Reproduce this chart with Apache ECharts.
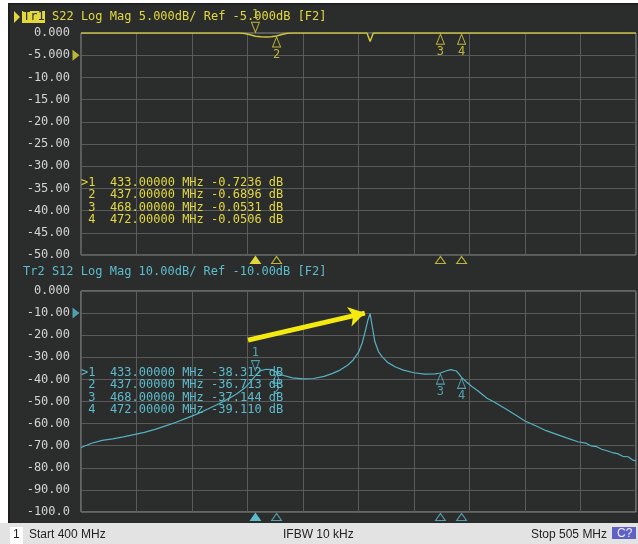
<!DOCTYPE html>
<html>
<head>
<meta charset="utf-8">
<script src="https://cdn.jsdelivr.net/npm/echarts@6/dist/echarts.min.js"></script>
<style>
  html, body { margin: 0; padding: 0; background: #fff; }
  #chart { width: 638px; height: 544px; }
</style>
</head>
<body>
<div id="chart"></div>
<script>
// sweep 400 - 505 MHz, 10 divisions
const startMHz = 400
const stopMHz = 505

// Tr1 S22 (log mag, dB)
const s22Freq = [400, 430, 431, 432, 433, 434, 435, 436, 437, 438, 439, 440, 454.1, 454.7, 455.3, 505]
const s22Db = [0, 0, -0.10, -0.40, -0.72, -0.86, -0.88, -0.82, -0.69, -0.35, -0.08, 0, 0, -1.9, 0, 0]

// Tr2 S12 (log mag, dB)
const s12Freq = [400, 402, 404, 406, 408, 410, 412, 414, 416, 418, 420, 422, 424, 426, 428,
  429.5, 431, 432, 433, 434, 435, 436, 437, 438, 440, 442, 444, 446,
  447.5, 449, 450.5, 451.5, 452.5, 453.2, 453.8, 454.3, 454.7, 455.1, 455.6, 456.3, 457, 458,
  459.5, 461, 463, 465, 467, 468, 469, 470, 471, 471.5, 472,
  473, 474, 475, 476.8, 478, 480, 482, 484, 486, 488, 490, 492, 494,
  495.5, 496.5, 497.5, 498.5, 499.5, 500.5, 501.5, 502.5, 503.5, 504.3, 505]
const s12Db = [-70.8, -68.9, -67.6, -66.9, -66.0, -65.0, -64.0, -62.6, -61.0, -59.4, -57.5, -55.6, -53.4, -51.1, -48.6,
  -46.5, -43.8, -41.2, -38.3, -36.0, -35.4, -35.6, -36.7, -38.0, -39.3, -39.8, -39.6, -38.6,
  -37.4, -35.8, -33.5, -31.2, -27.8, -23.5, -18.0, -13.0, -10.2, -16.0, -23.0, -27.5, -29.8, -32.3,
  -34.4, -35.8, -37.0, -37.6, -37.5, -37.1, -36.2, -35.6, -36.2, -37.5, -39.1,
  -41.3, -43.3, -45.0, -48.5, -50.0, -52.8, -55.8, -58.8, -61.0, -63.2, -64.9, -66.6, -68.2,
  -68.8, -70.1, -70.4, -71.6, -72.3, -73.1, -73.6, -74.8, -75.0, -76.4, -76.9]

// markers
const markerFreq = [433, 437, 468, 472]
const markerS22 = [-0.7236, -0.6896, -0.0531, -0.0506]
const markerS12 = [-38.312, -36.713, -37.144, -39.110]

// scale settings
const s22Ref = -5, s22Min = -50, s22Max = 0, s22Div = 5
const s12Ref = -10, s12Min = -100, s12Max = 0, s12Div = 10

// yellow arrow annotation (MHz, dB)
const arrowFrom = [431.6, -22.2]
const arrowTo = [453.7, -10.0]

const YEL = '#e2d83e'
const YEL_TRACE = '#cfc63a'
const CYAN = '#5cbccd'
const CYAN_TRACE = '#55b2c2'
const BG = '#2b2d2c'
const MONO = '"DejaVu Sans Mono", monospace'

const fmtDb = v => {
  const a = Math.abs(v)
  if (a < 10) return v.toFixed(3)
  if (a < 100) return v.toFixed(2)
  return v.toFixed(1)
}

const pts = (fs, vs) => fs.map((f, i) => [f - startMHz, vs[i]])

// marker glyphs on the trace
function traceMarkers(vals, color, upOff, downOff) {
  return markerFreq.map((f, i) => {
    const active = i === 0
    return {
      value: [f - startMHz, vals[i]],
      symbol: 'triangle',
      symbolSize: [8, 10],
      symbolRotate: active ? 180 : 0,
      symbolOffset: [0, active ? upOff : downOff],
      label: {
        show: true,
        formatter: String(i + 1),
        position: active ? 'top' : 'bottom',
        distance: 1,
        color: color,
        fontFamily: MONO,
        fontSize: 12
      }
    }
  })
}

// triangles under the x axis
function axisMarkers(minVal) {
  return markerFreq.map((f, i) => ({
    value: [f - startMHz, minVal],
    itemStyle: i === 0 ? { opacity: 1 } : { color: 'rgba(0,0,0,0)' }
  }))
}

const markerRows = (vals, digits) => markerFreq.map((f, i) =>
  (i === 0 ? '>' : ' ') + (i + 1) + '  ' + f.toFixed(5) + ' MHz ' + vals[i].toFixed(digits) + ' dB')

const xAxisBase = {
  type: 'value', min: 0, max: stopMHz - startMHz, interval: (stopMHz - startMHz) / 10,
  axisLabel: { show: false }, axisTick: { show: false }, axisLine: { show: false },
  splitLine: { show: true, lineStyle: { color: '#5a5a5a', width: 1 } }
}
const yAxisBase = (min, max, div, ref, refColor) => ({
  type: 'value', min: min, max: max, interval: div,
  axisTick: { show: false }, axisLine: { show: false },
  splitLine: { show: true, lineStyle: { color: '#5a5a5a', width: 1 } },
  axisLabel: {
    margin: 11, fontFamily: MONO, fontSize: 12,
    color: v => (v === ref ? refColor : '#d4d4d4'),
    formatter: fmtDb
  }
})

const tableText = (rows, y0, color) => rows.map((r, i) => ({
  type: 'text', x: 81, y: y0 + i * 12.2,
  style: { text: r, fill: color, font: '12px ' + MONO, verticalAlign: 'middle' },
  z: 100
}))

const chart = echarts.init(document.getElementById('chart'))
chart.setOption({
  animation: false,
  backgroundColor: '#ffffff',
  grid: [
    { left: 81, top: 33, width: 555, height: 222, show: true, borderColor: '#8e8e8e', borderWidth: 1, backgroundColor: 'transparent' },
    { left: 81, top: 291, width: 555, height: 221, show: true, borderColor: '#a0a0a0', borderWidth: 1, backgroundColor: 'transparent' }
  ],
  xAxis: [
    Object.assign({ gridIndex: 0 }, xAxisBase),
    Object.assign({ gridIndex: 1 }, xAxisBase)
  ],
  yAxis: [
    Object.assign({ gridIndex: 0 }, yAxisBase(s22Min, s22Max, s22Div, s22Ref, YEL)),
    Object.assign({ gridIndex: 1 }, yAxisBase(s12Min, s12Max, s12Div, s12Ref, CYAN))
  ],
  graphic: [
    { type: 'rect', shape: { x: 8, y: 4, width: 630, height: 520 }, style: { fill: BG }, z: -10 },
    { type: 'rect', shape: { x: 8, y: 3, width: 630, height: 1.5 }, style: { fill: '#1c1c1c' }, z: -9 },
    { type: 'rect', shape: { x: 8, y: 4, width: 2, height: 520 }, style: { fill: '#1e1e1e' }, z: -9 },
    // title Tr1
    { type: 'polygon', shape: { points: [[14, 11], [20, 17], [14, 23]] }, style: { fill: YEL }, z: 100 },
    { type: 'rect', shape: { x: 22, y: 11, width: 23, height: 12 }, style: { fill: YEL }, z: 100 },
    { type: 'text', x: 23, y: 17, style: { text: 'Tr1', fill: BG, font: '12px ' + MONO, verticalAlign: 'middle' }, z: 101 },
    { type: 'text', x: 52, y: 17, style: { text: 'S22 Log Mag 5.000dB/ Ref -5.000dB [F2]', fill: YEL, font: '12px ' + MONO, verticalAlign: 'middle' }, z: 100 },
    // title Tr2
    { type: 'text', x: 23, y: 272, style: { text: 'Tr2 S12 Log Mag 10.00dB/ Ref -10.00dB [F2]', fill: CYAN, font: '12px ' + MONO, verticalAlign: 'middle' }, z: 100 }
  ]
    .concat(tableText(markerRows(markerS22, 4), 183, YEL))
    .concat(tableText(markerRows(markerS12, 3), 373, CYAN))
    .concat([
      // status bar
      { type: 'rect', shape: { x: 0, y: 523, width: 638, height: 21 }, style: { fill: '#e3e3e3' }, z: 100 },
      { type: 'rect', shape: { x: 10, y: 527, width: 13, height: 17 }, style: { fill: '#ffffff' }, z: 101 },
      { type: 'text', x: 13, y: 535, style: { text: '1', fill: '#222', font: '12px "Liberation Sans"', verticalAlign: 'middle' }, z: 102 },
      { type: 'text', x: 29, y: 535, style: { text: 'Start 400 MHz', fill: '#222', font: '12px "Liberation Sans"', verticalAlign: 'middle' }, z: 102 },
      { type: 'text', x: 283, y: 535, style: { text: 'IFBW 10 kHz', fill: '#222', font: '12px "Liberation Sans"', verticalAlign: 'middle' }, z: 102 },
      { type: 'text', x: 531, y: 535, style: { text: 'Stop 505 MHz', fill: '#222', font: '12px "Liberation Sans"', verticalAlign: 'middle' }, z: 102 },
      { type: 'rect', shape: { x: 612, y: 527, width: 24, height: 12 }, style: { fill: '#5f62c4' }, z: 101 },
      { type: 'text', x: 617, y: 533.5, style: { text: 'C?', fill: '#eeeeff', font: '12px "Liberation Sans"', verticalAlign: 'middle' }, z: 102 }
    ]),
  series: [
    {
      type: 'line', xAxisIndex: 0, yAxisIndex: 0, data: pts(s22Freq, s22Db),
      showSymbol: false, lineStyle: { color: YEL_TRACE, width: 1.5 }, z: 5
    },
    {
      type: 'scatter', xAxisIndex: 0, yAxisIndex: 0, clip: false,
      data: traceMarkers(markerS22, YEL, -9, 6),
      itemStyle: { color: 'rgba(0,0,0,0)', borderColor: YEL, borderWidth: 1 }, z: 6
    },
    {
      type: 'scatter', xAxisIndex: 0, yAxisIndex: 0, clip: false,
      data: axisMarkers(s22Min), symbol: 'triangle', symbolSize: [10, 7], symbolOffset: [0, 5],
      itemStyle: { color: YEL, borderColor: YEL, borderWidth: 1 }, z: 6
    },
    {
      type: 'scatter', xAxisIndex: 0, yAxisIndex: 0, clip: false,
      data: [[0, s22Ref]], symbol: 'triangle', symbolSize: [11, 7], symbolRotate: -90, symbolOffset: [-5, 0],
      itemStyle: { color: YEL }, z: 6
    },
    {
      type: 'line', xAxisIndex: 1, yAxisIndex: 1, data: pts(s12Freq, s12Db),
      showSymbol: false, lineStyle: { color: CYAN_TRACE, width: 1.2 }, z: 5,
      markLine: {
        silent: true, symbol: ['none', 'arrow'], symbolSize: [15, 16],
        label: { show: false },
        lineStyle: { color: '#f4ea10', width: 5, type: 'solid' },
        data: [[
          { coord: [arrowFrom[0] - startMHz, arrowFrom[1]] },
          { coord: [arrowTo[0] - startMHz, arrowTo[1]] }
        ]]
      }
    },
    {
      type: 'scatter', xAxisIndex: 1, yAxisIndex: 1, clip: false,
      data: traceMarkers(markerS12, CYAN, -10, 6),
      itemStyle: { color: 'rgba(0,0,0,0)', borderColor: CYAN, borderWidth: 1 }, z: 6
    },
    {
      type: 'scatter', xAxisIndex: 1, yAxisIndex: 1, clip: false,
      data: axisMarkers(s12Min), symbol: 'triangle', symbolSize: [10, 7], symbolOffset: [0, 5],
      itemStyle: { color: CYAN, borderColor: CYAN, borderWidth: 1 }, z: 6
    },
    {
      type: 'scatter', xAxisIndex: 1, yAxisIndex: 1, clip: false,
      data: [[0, s12Ref]], symbol: 'triangle', symbolSize: [11, 7], symbolRotate: -90, symbolOffset: [-5, 0],
      itemStyle: { color: CYAN }, z: 6
    }
  ]
})
</script>
</body>
</html>
